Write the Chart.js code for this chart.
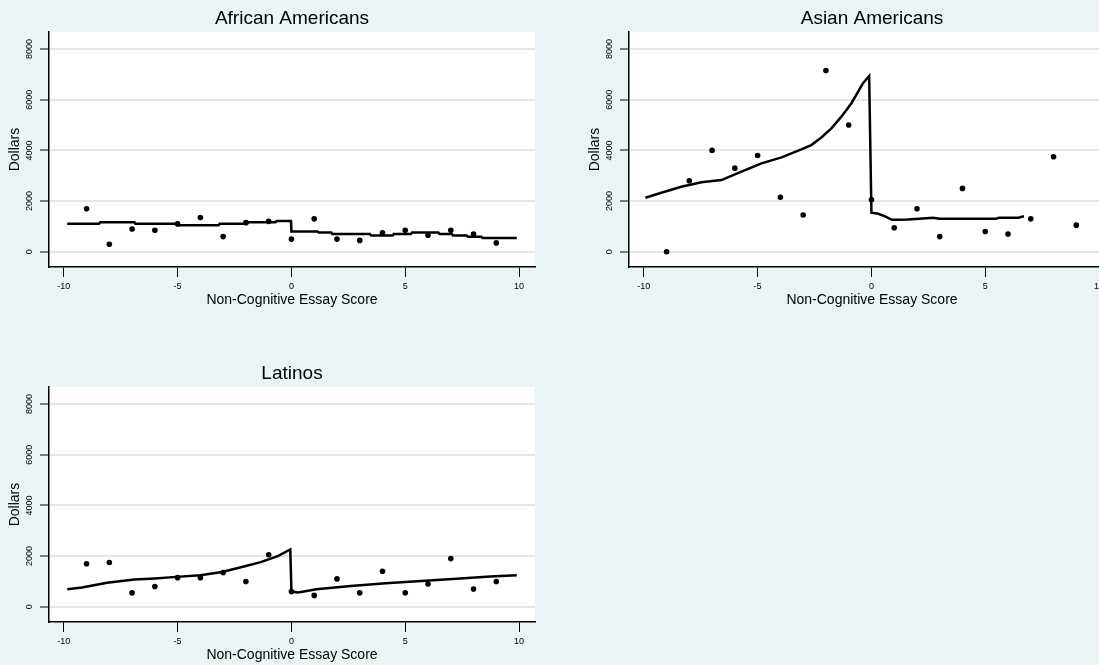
<!DOCTYPE html>
<html>
<head>
<meta charset="utf-8">
<script src="https://cdn.jsdelivr.net/npm/chart.js@4.4.1/dist/chart.umd.min.js"></script>
<style>
  html, body { margin: 0; padding: 0; background: #eaf4f6; overflow: hidden; width: 1099px; height: 665px; }
  canvas { position: absolute; }
</style>
</head>
<body>
<canvas id="panelAfrican" width="549" height="310" style="left:0px;top:0px"></canvas>
<canvas id="panelAsian" width="549" height="310" style="left:580px;top:0px"></canvas>
<canvas id="panelLatino" width="549" height="310" style="left:0px;top:355px"></canvas>
<script>
// Puntos: promedio de dólares por puntuación del ensayo
const scores = [-9, -8, -7, -6, -5, -4, -3, -2, -1, 0, 1, 2, 3, 4, 5, 6, 7, 8, 9];
const africanDollars = [1700, 300, 900, 850, 1100, 1350, 600, 1150, 1200, 500, 1300, 500, 450, 750, 850, 650, 850, 700, 350];
const asianDollars = [0, 2800, 4000, 3300, 3800, 2150, 1450, 7150, 5000, 2050, 950, 1700, 600, 2500, 800, 700, 1300, 3750, 1050];
const latinoDollars = [1700, 1750, 550, 800, 1150, 1150, 1350, 1000, 2050, 600, 450, 1100, 550, 1400, 550, 900, 1900, 700, 1000];

// Curvas ajustadas
const africanFitX = [-9.85, -8.45, -8.4, -6.9, -6.85, -5.0, -4.95, -3.2, -3.15, -1.95, -1.9, -0.7, -0.65, -0.02, 0, 1.15, 1.2, 1.75, 1.8, 3.45, 3.5, 4.45, 4.5, 5.25, 5.3, 6.45, 6.5, 7.05, 7.1, 7.7, 7.75, 8.35, 8.4, 9.9];
const africanFitY = [1110, 1110, 1170, 1170, 1110, 1110, 1050, 1050, 1110, 1110, 1170, 1170, 1210, 1210, 800, 800, 760, 760, 700, 700, 640, 640, 700, 700, 760, 760, 700, 700, 640, 640, 590, 590, 540, 540];
const asianFitX = [-9.93, -9.23, -8.35, -7.47, -6.59, -5.71, -4.83, -3.95, -3.08, -2.64, -2.2, -1.76, -1.32, -0.88, -0.59, -0.37, -0.1, 0.0, 0.3, 0.6, 0.9, 1.6, 2.1, 2.7, 3.0, 5.45, 5.6, 6.45, 6.7];
const asianFitY = [2130, 2330, 2565, 2740, 2830, 3160, 3490, 3725, 4040, 4210, 4510, 4870, 5330, 5860, 6310, 6650, 6935, 1540, 1500, 1400, 1260, 1270, 1300, 1340, 1300, 1300, 1340, 1340, 1400];
const latinoFitX = [-9.85, -9.2, -8.1, -6.9, -6.0, -5.05, -4.0, -3.05, -2.0, -1.35, -0.6, -0.05, 0.0, 0.3, 1.1, 2.6, 4.15, 5.7, 7.25, 8.75, 9.9];
const latinoFitY = [690, 760, 950, 1080, 1120, 1180, 1240, 1370, 1610, 1760, 2000, 2260, 600, 560, 690, 820, 930, 1020, 1110, 1190, 1240];

// Marcas de los ejes
const xTicks = [-10, -5, 0, 5, 10];
const yTicks = [0, 2000, 4000, 6000, 8000];

const FONT = '"Liberation Sans", Arial, sans-serif';

// Fondo blanco del área de trazado
const plotBackground = {
    id: 'plotBackground',
    beforeDraw(chart) {
        const { ctx, chartArea } = chart;
        ctx.save();
        ctx.fillStyle = '#ffffff';
        ctx.fillRect(chartArea.left, chartArea.top, chartArea.right - chartArea.left, chartArea.bottom - chartArea.top);
        ctx.restore();
    }
};

function makePanel(canvasId, title, dollars, fitX, fitY) {
    const points = scores.map((s, i) => ({ x: s, y: dollars[i] }));
    const fit = fitX.map((x, i) => ({ x: x, y: fitY[i] }));
    const ctx = document.getElementById(canvasId).getContext('2d');
    return new Chart(ctx, {
        type: 'scatter',
        data: {
            datasets: [{
                data: points,
                backgroundColor: '#000000',
                borderWidth: 0,
                pointRadius: 2.8,
                pointHoverRadius: 2.8
            }, {
                data: fit,
                showLine: true,
                borderColor: '#000000',
                borderWidth: 2.5,
                pointRadius: 0,
                tension: 0,
                fill: false
            }]
        },
        options: {
            responsive: false,
            animation: false,
            devicePixelRatio: 1,
            layout: { padding: { left: 0, right: 14, top: 0, bottom: 0 } },
            plugins: {
                legend: { display: false },
                tooltip: { enabled: false },
                title: {
                    display: true,
                    text: title,
                    fullSize: false,
                    color: '#000000',
                    font: { family: FONT, size: 19, weight: 'normal', lineHeight: 1.2 },
                    padding: { top: 7, bottom: 2.2 }
                }
            },
            scales: {
                x: {
                    type: 'linear',
                    min: -10.65,
                    max: 10.7,
                    afterBuildTicks: s => { s.ticks = xTicks.map(v => ({ value: v })); },
                    afterFit: s => { s.height = 43; },
                    border: { display: true, color: '#000000', width: 1.5 },
                    grid: { drawOnChartArea: false, tickLength: 10, tickColor: '#000000', tickWidth: 1 },
                    ticks: {
                        autoSkip: false,
                        maxRotation: 0,
                        padding: 4,
                        color: '#000000',
                        font: { family: FONT, size: 9 },
                        callback: v => String(v)
                    },
                    title: {
                        display: true,
                        text: 'Non-Cognitive Essay Score',
                        color: '#000000',
                        font: { family: FONT, size: 14, lineHeight: 1.2 },
                        padding: { top: 0, bottom: 1.6 }
                    }
                },
                y: {
                    type: 'linear',
                    min: -600,
                    max: 8670,
                    afterBuildTicks: s => { s.ticks = yTicks.map(v => ({ value: v })); },
                    afterFit: s => { s.width = 49; },
                    border: { display: true, color: '#000000', width: 1.5 },
                    grid: { color: '#e4e7e8', lineWidth: 2, tickLength: 9, tickColor: '#000000', tickWidth: 1 },
                    ticks: {
                        autoSkip: false,
                        minRotation: 90,
                        maxRotation: 90,
                        crossAlign: 'center',
                        padding: 0,
                        color: '#000000',
                        font: { family: FONT, size: 9 },
                        callback: v => String(v)
                    },
                    title: {
                        display: true,
                        text: 'Dollars',
                        color: '#000000',
                        font: { family: FONT, size: 14, lineHeight: 1.2 },
                        padding: { top: 7, bottom: 0 }
                    }
                }
            }
        },
        plugins: [plotBackground]
    });
}

makePanel('panelAfrican', 'African Americans', africanDollars, africanFitX, africanFitY);
makePanel('panelAsian', 'Asian Americans', asianDollars, asianFitX, asianFitY);
makePanel('panelLatino', 'Latinos', latinoDollars, latinoFitX, latinoFitY);
</script>
</body>
</html>
